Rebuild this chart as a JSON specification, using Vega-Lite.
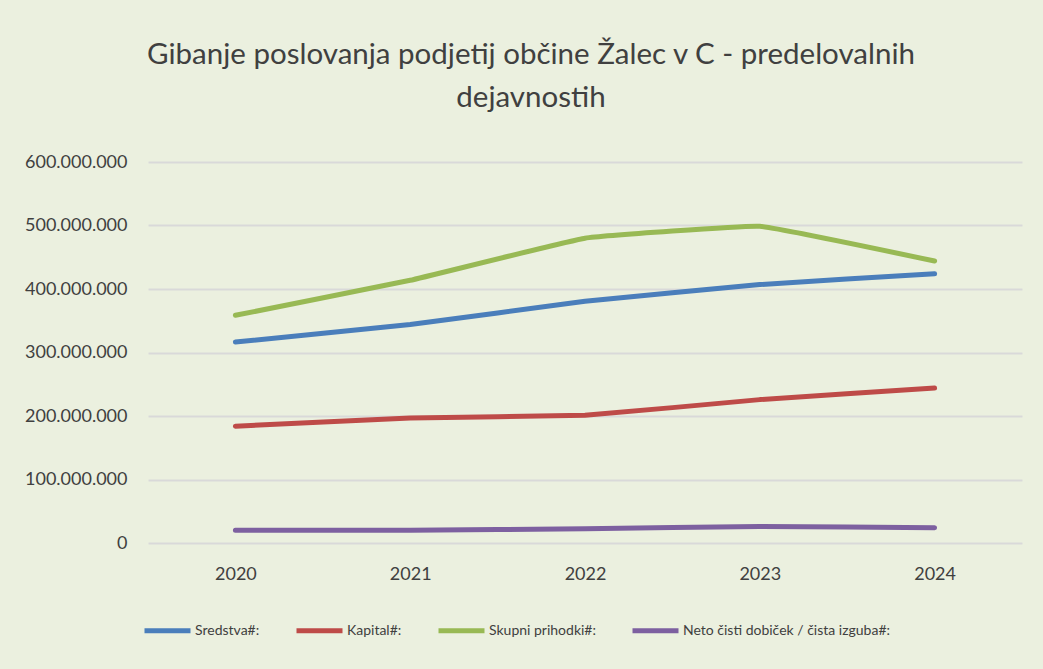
{
  "$schema": "https://vega.github.io/schema/vega-lite/v6.json",
  "width": 874,
  "height": 381,
  "autosize": {"type": "none"},
  "padding": {"left": 148, "top": 162, "right": 21, "bottom": 126},
  "background": "#ebf0df",
  "title": {
    "text": ["Gibanje poslovanja podjetij občine Žalec v C - predelovalnih", "dejavnostih"],
    "font": "Lato",
    "fontSize": 29.5,
    "fontWeight": "normal",
    "color": "#404040",
    "lineHeight": 43,
    "anchor": "middle",
    "dx": -54,
    "offset": 40
  },
  "data": {
    "values": [
      {"leto": "2020", "serija": "Sredstva#:", "vrednost": 316500000},
      {"leto": "2021", "serija": "Sredstva#:", "vrednost": 344000000},
      {"leto": "2022", "serija": "Sredstva#:", "vrednost": 380600000},
      {"leto": "2023", "serija": "Sredstva#:", "vrednost": 407000000},
      {"leto": "2024", "serija": "Sredstva#:", "vrednost": 424000000},
      {"leto": "2020", "serija": "Kapital#:", "vrednost": 184000000},
      {"leto": "2021", "serija": "Kapital#:", "vrednost": 197000000},
      {"leto": "2022", "serija": "Kapital#:", "vrednost": 201000000},
      {"leto": "2023", "serija": "Kapital#:", "vrednost": 225800000},
      {"leto": "2024", "serija": "Kapital#:", "vrednost": 244000000},
      {"leto": "2020", "serija": "Skupni prihodki#:", "vrednost": 358600000},
      {"leto": "2021", "serija": "Skupni prihodki#:", "vrednost": 413700000},
      {"leto": "2022", "serija": "Skupni prihodki#:", "vrednost": 480000000},
      {"leto": "2023", "serija": "Skupni prihodki#:", "vrednost": 498700000},
      {"leto": "2024", "serija": "Skupni prihodki#:", "vrednost": 444000000},
      {"leto": "2020", "serija": "Neto čisti dobiček / čista izguba#:", "vrednost": 20000000},
      {"leto": "2021", "serija": "Neto čisti dobiček / čista izguba#:", "vrednost": 20000000},
      {"leto": "2022", "serija": "Neto čisti dobiček / čista izguba#:", "vrednost": 22600000},
      {"leto": "2023", "serija": "Neto čisti dobiček / čista izguba#:", "vrednost": 26000000},
      {"leto": "2024", "serija": "Neto čisti dobiček / čista izguba#:", "vrednost": 24000000}
    ]
  },
  "mark": {"type": "line", "interpolate": "cardinal", "tension": 0.75, "strokeWidth": 5, "strokeCap": "round", "strokeJoin": "round"},
  "encoding": {
    "x": {
      "field": "leto",
      "type": "ordinal",
      "scale": {"type": "point", "padding": 0.5},
      "axis": {
        "title": null,
        "labelAngle": 0,
        "domain": false,
        "ticks": false,
        "grid": false,
        "labelFont": "Lato",
        "labelFontSize": 18,
        "labelColor": "#404040",
        "labelPadding": 22
      }
    },
    "y": {
      "field": "vrednost",
      "type": "quantitative",
      "scale": {"domain": [0, 600000000], "nice": false},
      "axis": {
        "title": null,
        "values": [0, 100000000, 200000000, 300000000, 400000000, 500000000, 600000000],
        "format": ",.0f",
        "domain": false,
        "ticks": false,
        "grid": true,
        "gridColor": "#d9d9d9",
        "gridWidth": 2,
        "labelFont": "Lato",
        "labelFontSize": 18,
        "labelColor": "#404040",
        "labelPadding": 21
      }
    },
    "color": {
      "field": "serija",
      "type": "nominal",
      "sort": ["Sredstva#:", "Kapital#:", "Skupni prihodki#:", "Neto čisti dobiček / čista izguba#:"],
      "scale": {
        "domain": ["Sredstva#:", "Kapital#:", "Skupni prihodki#:", "Neto čisti dobiček / čista izguba#:"],
        "range": ["#4a7ebb", "#be4b48", "#98b954", "#7d60a0"]
      },
      "legend": {
        "title": null,
        "orient": "none",
        "direction": "horizontal",
        "legendX": -6,
        "legendY": 443,
        "symbolType": "stroke",
        "symbolSize": 2116,
        "symbolStrokeWidth": 5,
        "labelFont": "Lato",
        "labelFontSize": 14,
        "labelColor": "#404040",
        "labelOffset": 2,
        "columnPadding": 26,
        "labelLimit": 400
      }
    }
  },
  "config": {
    "locale": {
      "number": {"decimal": ",", "thousands": ".", "grouping": [3], "currency": ["", " €"]}
    },
    "view": {"stroke": null}
  }
}
